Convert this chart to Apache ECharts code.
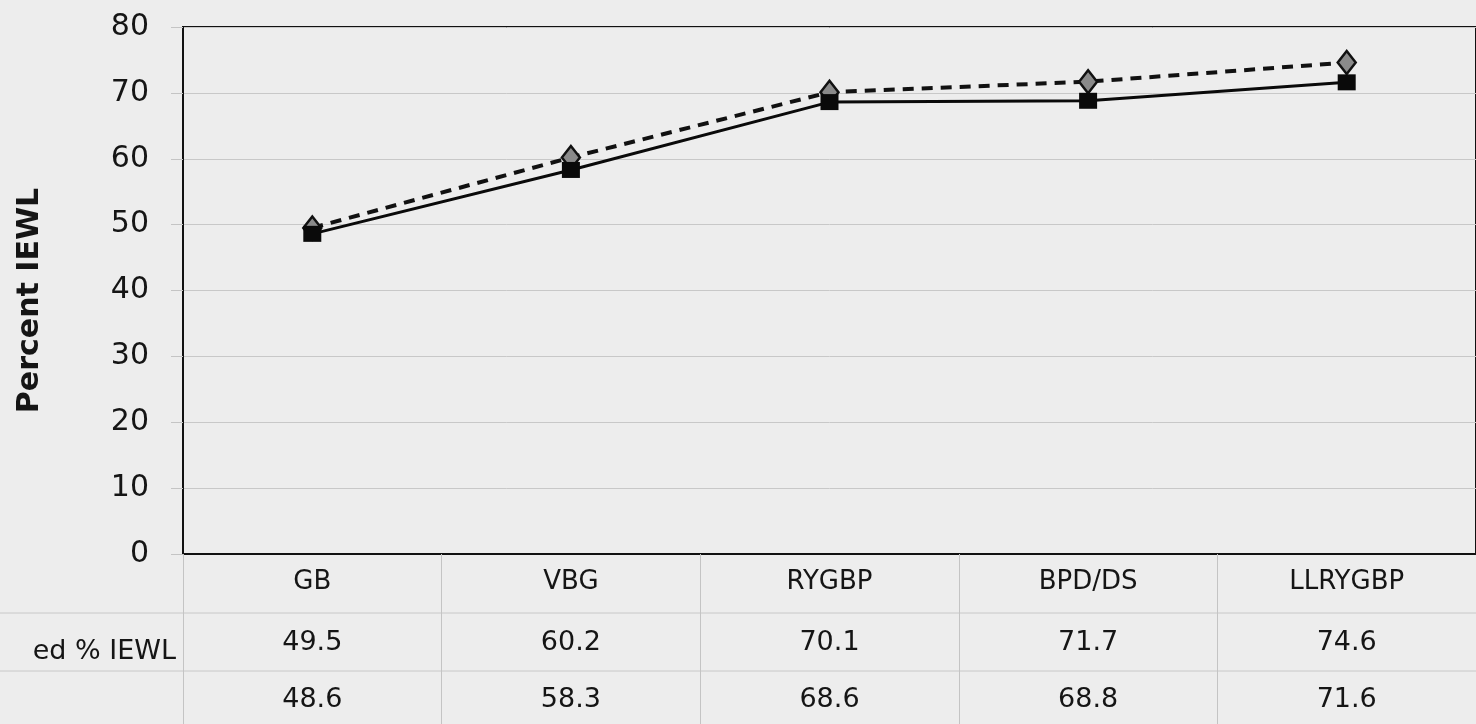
<!DOCTYPE html>
<html>
<head>
<meta charset="utf-8">
<script src="https://cdn.jsdelivr.net/npm/echarts@6/dist/echarts.min.js"></script>
<style>
html,body{margin:0;padding:0;background:#ececec;}
#chart{width:1476px;height:724px;}
</style>
</head>
<body>
<div id="chart"></div>
<script>
const categories = ['GB', 'VBG', 'RYGBP', 'BPD/DS', 'LLRYGBP'];
const predicted = [49.5, 60.2, 70.1, 71.7, 74.6];
const actual = [48.6, 58.3, 68.6, 68.8, 71.6];
const yTicks = [0, 10, 20, 30, 40, 50, 60, 70, 80];
const rowLabel = 'ed % IEWL';

const FONT = '"DejaVu Sans", "Liberation Sans", Arial, sans-serif';
const chart = echarts.init(document.getElementById('chart'), null, {renderer: 'canvas'});

function tableAxis(offset, values) {
  return {
    type: 'category', gridIndex: 0, position: 'bottom', offset: offset,
    data: categories,
    axisLine: {show: false}, axisTick: {show: false}, splitLine: {show: false},
    axisLabel: {
      interval: 0, margin: 15, fontSize: 27, color: '#151515', fontFamily: FONT,
      formatter: (v, i) => values[i].toFixed(1)
    }
  };
}

chart.setOption({
  backgroundColor: '#ededed',
  animation: false,
  grid: {
    left: 183, top: 27, width: 1300, height: 527,
    show: true, borderColor: '#111', borderWidth: 2, backgroundColor: 'transparent'
  },
  xAxis: [
    {
      type: 'category', gridIndex: 0, data: categories, boundaryGap: true,
      axisLine: {show: true, lineStyle: {color: '#111', width: 2}},
      axisTick: {show: true, length: 170, lineStyle: {color: '#c4c4c4', width: 1}},
      axisLabel: {interval: 0, margin: 15, fontSize: 26, color: '#151515', fontFamily: FONT},
      splitLine: {show: false}
    },
    tableAxis(60, predicted),
    tableAxis(117, actual)
  ],
  yAxis: {
    type: 'value', min: yTicks[0], max: yTicks[yTicks.length - 1], interval: 10,
    name: 'Percent IEWL', nameLocation: 'middle', nameGap: 138, nameRotate: 90,
    nameTextStyle: {fontSize: 30, fontWeight: 'bold', color: '#151515', fontFamily: FONT, padding: [0, 20, 0, 0]},
    axisLine: {show: true, lineStyle: {color: '#111', width: 2}},
    axisTick: {show: true, length: 12, lineStyle: {color: '#c4c4c4', width: 1}},
    axisLabel: {margin: 34, fontSize: 30, color: '#151515', fontFamily: FONT},
    splitLine: {show: true, lineStyle: {color: '#c8c8c8', width: 1}}
  },
  graphic: [
    {type: 'line', shape: {x1: 0, y1: 613, x2: 1476, y2: 613}, style: {stroke: '#c8c8c8', lineWidth: 1}, z: 0},
    {type: 'line', shape: {x1: 0, y1: 671, x2: 1476, y2: 671}, style: {stroke: '#c8c8c8', lineWidth: 1}, z: 0},
    {type: 'text', right: 1476 - 176, top: 638, style: {text: rowLabel, fill: '#151515', font: '27px ' + FONT, textAlign: 'right'}}
  ],
  series: [
    {
      name: 'Predicted', type: 'line', data: predicted,
      symbol: 'diamond', symbolSize: [18, 23],
      itemStyle: {color: '#8a8a8a', borderColor: '#111', borderWidth: 2.5},
      lineStyle: {color: '#111', width: 4, type: [11, 8]},
      z: 3
    },
    {
      name: 'Actual', type: 'line', data: actual,
      symbol: 'rect', symbolSize: [18, 16],
      itemStyle: {color: '#0a0a0a', borderColor: '#0a0a0a', borderWidth: 0},
      lineStyle: {color: '#0a0a0a', width: 3},
      z: 4
    }
  ]
});
</script>
</body>
</html>
